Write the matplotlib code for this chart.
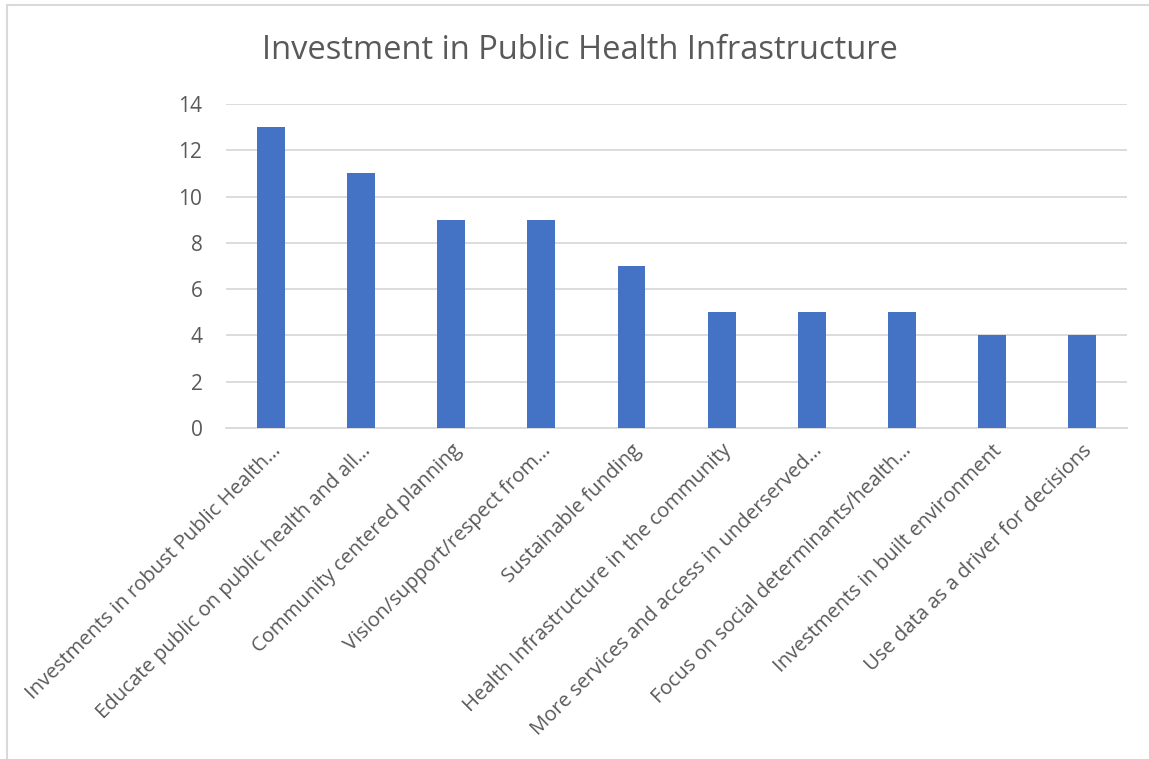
import matplotlib.pyplot as plt
from matplotlib.patches import Rectangle

plt.rcParams['font.family'] = ['Open Sans', 'DejaVu Sans']

categories = [
    'Investments in robust Public Health\u2026',
    'Educate public on public health and all\u2026',
    'Community centered planning',
    'Vision/support/respect from\u2026',
    'Sustainable funding',
    'Health Infrastructure in the community',
    'More services and access in underserved\u2026',
    'Focus on social determinants/health\u2026',
    'Investments in built environment',
    'Use data as a driver for decisions',
]
counts = [13, 11, 9, 9, 7, 5, 5, 5, 4, 4]
yticks = [0, 2, 4, 6, 8, 10, 12, 14]

text_color = '#595959'
grid_color = '#d9d9d9'

fig = plt.figure(figsize=(11.49, 7.59), dpi=100)
# thin chart-area border
fig.patches.append(Rectangle((0.006, -0.01), 1.2, 1.003, transform=fig.transFigure,
                             fill=False, edgecolor='#d9d9d9', linewidth=1.5))

ax = fig.add_axes([0.1967, 0.4361, 0.7842, 0.4269])
x = range(len(categories))
ax.bar(x, counts, width=0.31, color='#4472C4', zorder=3)

ax.set_xlim(-0.5, len(categories) - 0.5)
ax.set_ylim(0, 14)
ax.set_yticks(yticks)
ax.set_yticklabels([str(v) for v in yticks], fontsize=15, color=text_color)
ax.yaxis.grid(True, color=grid_color, linewidth=1.3, zorder=0)
ax.tick_params(axis='y', length=0, pad=17)
ax.tick_params(axis='x', length=0, pad=9)

ax.set_xticks(list(x))
ax.set_xticklabels(categories, rotation=45, ha='right', rotation_mode='anchor',
                   fontsize=14.6, color=text_color)

for side in ['top', 'right', 'left']:
    ax.spines[side].set_visible(False)
ax.spines['bottom'].set_color(grid_color)
ax.spines['bottom'].set_linewidth(1.3)

fig.text(0.505, 0.934, 'Investment in Public Health Infrastructure',
         ha='center', va='center', fontsize=23.5, color=text_color)

fig.savefig('out.png', dpi=100)
